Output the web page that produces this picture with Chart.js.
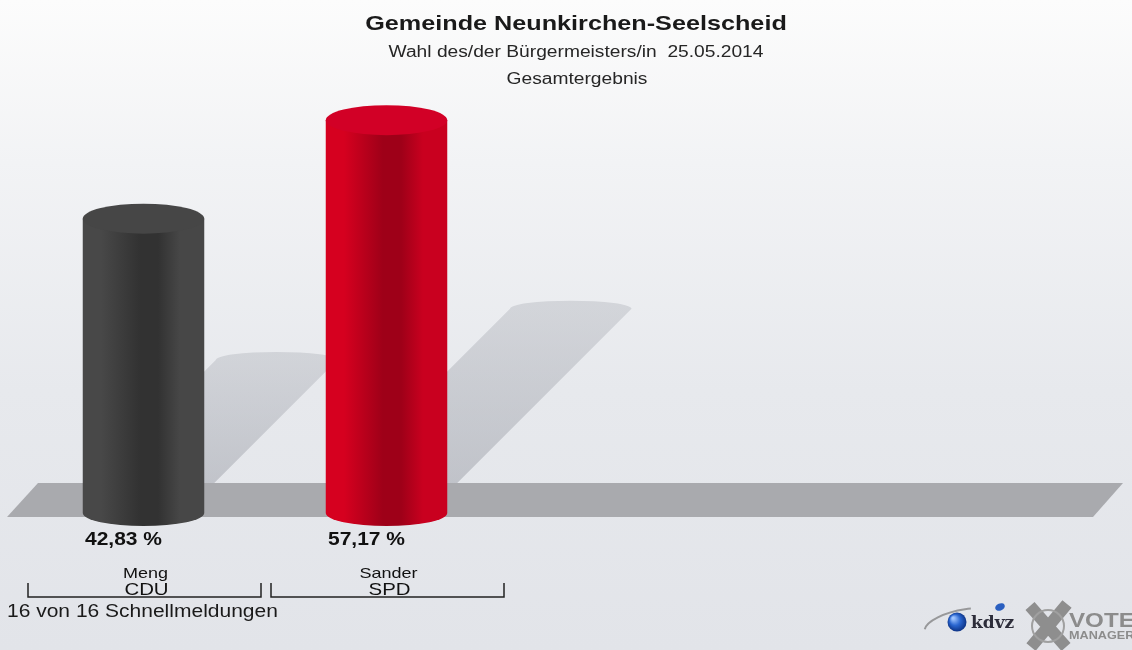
<!DOCTYPE html>
<html>
<head>
<meta charset="utf-8">
<script src="https://cdn.jsdelivr.net/npm/chart.js@4.4.1/dist/chart.umd.min.js"></script>
<style>
  html, body { margin: 0; padding: 0; background: #fff; }
  #wrap { width: 1132px; height: 650px; }
</style>
</head>
<body>
<div id="wrap"><canvas id="chart" width="1132" height="650"></canvas></div>
<script>
const candidates = ['Meng', 'Sander'];
const parties = ['CDU', 'SPD'];
const shares = [42.83, 57.17];
const reportsIn = 16;
const reportsTotal = 16;

const titleText = 'Gemeinde Neunkirchen-Seelscheid';
const subtitleText = 'Wahl des/der Bürgermeisters/in  25.05.2014';
const subtitle2Text = 'Gesamtergebnis';

// cylinder shades per party: edge, dark stripe, right edge, lid
const partyShades = [
  ['#484848', '#323232', '#474747', '#464646'],
  ['#d6001f', '#9e0018', '#c9001f', '#d20026'],
];

const FONT = '"Liberation Sans", Arial, Helvetica, sans-serif';
const SX = 1.2; // text is drawn a little wider than the font
const fmtPct = (v) => `${v.toFixed(2).replace('.', ',')} %`;

function wideText(ctx, text, x, y, sx = SX) {
  ctx.save();
  ctx.translate(x, y);
  ctx.scale(sx, 1);
  ctx.fillText(text, 0, 0);
  ctx.restore();
}

const cylinderPlugin = {
  id: 'cylinders',
  beforeDraw(chart) {
    const { ctx, width, height } = chart;
    const g = ctx.createLinearGradient(0, 0, 0, height);
    g.addColorStop(0, '#fcfcfc');
    g.addColorStop(0.25, '#f2f3f5');
    g.addColorStop(0.6, '#e7e9ed');
    g.addColorStop(1, '#e2e4e9');
    ctx.save();
    ctx.fillStyle = g;
    ctx.fillRect(0, 0, width, height);
    ctx.restore();
  },
  beforeDatasetsDraw(chart) {
    const { ctx } = chart;
    const bars = chart.getDatasetMeta(0).data;
    const base = chart.scales.y.getPixelForValue(0);
    ctx.save();
    // slanted shadows thrown to the upper right
    bars.forEach((bar) => {
      const h = bar.base - bar.y;
      const k = 0.52 * h;
      const l = bar.x - bar.width / 2 - 20;
      const r = bar.x + bar.width / 2 - 20;
      const g = ctx.createLinearGradient(0, bar.base, 0, bar.base - k);
      g.addColorStop(0, 'rgba(150,153,162,0.5)');
      g.addColorStop(1, 'rgba(165,168,176,0.35)');
      ctx.fillStyle = g;
      ctx.beginPath();
      ctx.moveTo(l, bar.base);
      ctx.lineTo(l + k, bar.base - k);
      ctx.ellipse((l + r) / 2 + k, bar.base - k, bar.width / 2, 8, 0, Math.PI, 0, false);
      ctx.lineTo(r, bar.base);
      ctx.closePath();
      ctx.fill();
    });
    // floor band
    ctx.fillStyle = '#a9aaae';
    ctx.beginPath();
    ctx.moveTo(38, base - 30);
    ctx.lineTo(1123, base - 30);
    ctx.lineTo(1093, base + 4);
    ctx.lineTo(7, base + 4);
    ctx.closePath();
    ctx.fill();
    ctx.restore();
  },
  afterDatasetsDraw(chart) {
    const { ctx } = chart;
    const bars = chart.getDatasetMeta(0).data;
    ctx.save();
    bars.forEach((bar, i) => {
      const [c0, c1, c2, lid] = partyShades[i];
      const rx = bar.width / 2;
      const l = bar.x - rx;
      const r = bar.x + rx;
      const g = ctx.createLinearGradient(l, 0, r, 0);
      g.addColorStop(0, c0);
      g.addColorStop(0.15, c0);
      g.addColorStop(0.47, c1);
      g.addColorStop(0.62, c1);
      g.addColorStop(0.8, c2);
      g.addColorStop(1, c2);
      ctx.fillStyle = g;
      ctx.beginPath();
      ctx.moveTo(l, bar.y);
      ctx.lineTo(l, bar.base);
      ctx.ellipse(bar.x, bar.base, rx, 13, 0, Math.PI, 0, true);
      ctx.lineTo(r, bar.y);
      ctx.closePath();
      ctx.fill();
      ctx.fillStyle = lid;
      ctx.beginPath();
      ctx.ellipse(bar.x, bar.y, rx, 15, 0, 0, Math.PI * 2);
      ctx.fill();
    });
    ctx.restore();
  },
  afterDraw(chart) {
    const { ctx } = chart;
    const bars = chart.getDatasetMeta(0).data;
    ctx.save();
    ctx.fillStyle = '#1a1a1a';
    ctx.textAlign = 'center';
    ctx.textBaseline = 'middle';
    ctx.font = `bold 21px ${FONT}`;
    wideText(ctx, titleText, 576, 24);
    ctx.fillStyle = '#262626';
    ctx.font = `16px ${FONT}`;
    wideText(ctx, subtitleText, 576, 53);
    wideText(ctx, subtitle2Text, 577, 80);

    bars.forEach((bar, i) => {
      const half = bar.width;
      ctx.fillStyle = '#111';
      ctx.textAlign = 'center';
      ctx.font = `bold 17.5px ${FONT}`;
      wideText(ctx, fmtPct(shares[i]), bar.x - 20, 540);
      ctx.font = `15px ${FONT}`;
      wideText(ctx, candidates[i], bar.x + 2, 574);
      ctx.font = `17px ${FONT}`;
      wideText(ctx, parties[i], bar.x + 3, 590);
      // bracket under the category
      ctx.strokeStyle = '#222';
      ctx.lineWidth = 1.5;
      ctx.beginPath();
      ctx.moveTo(bar.x - half + 6, 583);
      ctx.lineTo(bar.x - half + 6, 597);
      ctx.lineTo(bar.x + half - 4, 597);
      ctx.lineTo(bar.x + half - 4, 583);
      ctx.stroke();
    });
    ctx.textAlign = 'left';
    ctx.fillStyle = '#1a1a1a';
    ctx.font = `17.5px ${FONT}`;
    wideText(ctx, `${reportsIn} von ${reportsTotal} Schnellmeldungen`, 7, 612);

    // kdvz / VoteManager marks in the corner
    ctx.strokeStyle = 'rgba(120,120,120,0.7)';
    ctx.lineWidth = 2;
    ctx.beginPath();
    ctx.ellipse(962, 624, 38, 14, -0.2, Math.PI * 1.05, Math.PI * 1.6);
    ctx.stroke();
    const sg = ctx.createRadialGradient(953, 618, 1, 957, 622, 10);
    sg.addColorStop(0, '#9ec4ff');
    sg.addColorStop(0.5, '#2a66d0');
    sg.addColorStop(1, '#0b2f80');
    ctx.fillStyle = sg;
    ctx.beginPath();
    ctx.arc(957, 622, 9.5, 0, Math.PI * 2);
    ctx.fill();
    ctx.fillStyle = '#2a5fc0';
    ctx.beginPath();
    ctx.ellipse(1000, 607, 5, 3.5, -0.4, 0, Math.PI * 2);
    ctx.fill();
    ctx.fillStyle = '#2d2d3a';
    ctx.font = `bold 17px "DejaVu Serif", "Liberation Serif", serif`;
    ctx.textBaseline = 'alphabetic';
    ctx.fillText('kdvz', 971, 628);

    ctx.strokeStyle = '#8e8e8e';
    ctx.lineWidth = 12;
    ctx.lineCap = 'butt';
    ctx.beginPath();
    ctx.moveTo(1030, 606);
    ctx.lineTo(1066, 647);
    ctx.moveTo(1067, 604);
    ctx.lineTo(1031, 647);
    ctx.stroke();
    ctx.lineWidth = 2;
    ctx.strokeStyle = '#a0a0a0';
    ctx.beginPath();
    ctx.arc(1048, 626, 16, 0, Math.PI * 2);
    ctx.stroke();
    ctx.fillStyle = '#8c8c8c';
    ctx.font = `bold 21px ${FONT}`;
    wideText(ctx, 'VOTE', 1069, 627, 1.15);
    ctx.font = `bold 11px ${FONT}`;
    wideText(ctx, 'MANAGER', 1069, 639, 1.15);
    ctx.restore();
  },
};

new Chart(document.getElementById('chart'), {
  type: 'bar',
  data: {
    labels: parties,
    datasets: [{
      data: shares,
      backgroundColor: 'rgba(0,0,0,0)',
      borderWidth: 0,
      barPercentage: 0.5,
      categoryPercentage: 1,
    }],
  },
  options: {
    responsive: false,
    devicePixelRatio: 1,
    animation: false,
    layout: { padding: { top: 98, bottom: 137, left: 22, right: 624 } },
    plugins: { legend: { display: false }, tooltip: { enabled: false }, title: { display: false } },
    scales: {
      x: { display: false },
      y: { display: false, min: 0, max: 60.4 },
    },
  },
  plugins: [cylinderPlugin],
});
</script>
</body>
</html>
